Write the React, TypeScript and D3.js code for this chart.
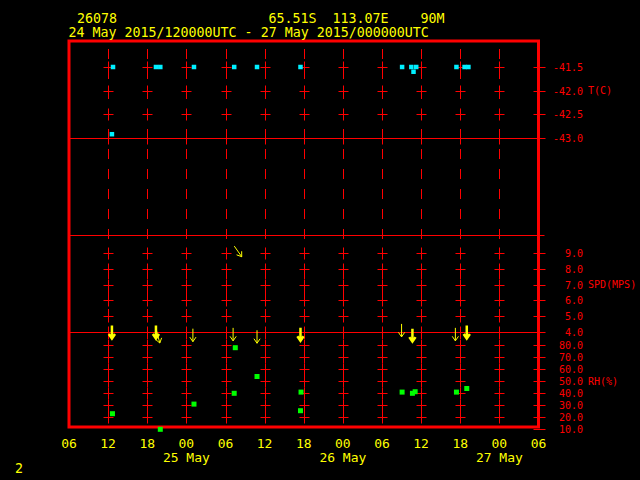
import { useEffect, useRef } from 'react';
import * as d3 from 'd3';

// header texts
const station = '26078';
const location = '65.51S  113.07E    90M';
const period = '24 May 2015/120000UTC - 27 May 2015/000000UTC';
const pageNumber = '2';

const timeStart = '2015-05-24T06:00:00Z';
const timeEnd = '2015-05-27T06:00:00Z';

const tempTicks = [-41.5, -42.0, -42.5, -43.0];
const spdTicks = [9, 8, 7, 6, 5, 4];
const rhTicks = [80, 70, 60, 50, 40, 30, 20, 10];

// temperature (C)
const tempTimes = [
  '2015-05-24T12:45Z', '2015-05-24T12:35Z', '2015-05-24T19:20Z', '2015-05-24T20:00Z',
  '2015-05-25T01:10Z', '2015-05-25T07:20Z', '2015-05-25T10:50Z', '2015-05-25T17:30Z',
  '2015-05-26T09:05Z', '2015-05-26T10:30Z', '2015-05-26T11:15Z', '2015-05-26T10:50Z',
  '2015-05-26T17:25Z', '2015-05-26T18:40Z', '2015-05-26T19:15Z',
];
const tempValues = [
  -41.5, -42.92, -41.5, -41.5,
  -41.5, -41.5, -41.5, -41.5,
  -41.5, -41.5, -41.5, -41.6,
  -41.5, -41.5, -41.5,
];

// wind, heavy arrows
const windBoldTimes = [
  '2015-05-24T12:35Z', '2015-05-24T19:20Z', '2015-05-25T17:30Z',
  '2015-05-26T10:40Z', '2015-05-26T19:00Z',
];
const windBoldSpeed = [4.0, 4.0, 3.85, 3.8, 4.0];
const windBoldDir = [360, 360, 360, 360, 360];

// wind, light arrows
const windTimes = [
  '2015-05-24T19:40Z', '2015-05-25T01:00Z', '2015-05-25T07:10Z', '2015-05-25T07:55Z',
  '2015-05-25T10:50Z', '2015-05-26T09:00Z', '2015-05-26T17:15Z',
];
const windSpeed = [3.7, 3.8, 3.85, 9.1, 3.7, 4.1, 3.85];
const windDir = [345, 360, 360, 325, 360, 360, 360];

// relative humidity (%)
const rhTimes = [
  '2015-05-24T12:40Z', '2015-05-24T20:00Z', '2015-05-25T01:10Z', '2015-05-25T07:30Z',
  '2015-05-25T07:20Z', '2015-05-25T10:50Z', '2015-05-25T17:35Z', '2015-05-25T17:30Z',
  '2015-05-26T09:05Z', '2015-05-26T10:40Z', '2015-05-26T11:05Z', '2015-05-26T17:25Z',
  '2015-05-26T19:00Z',
];
const rhValues = [23, 10, 31, 78, 40, 54, 41, 25.5, 41, 40, 41.3, 41, 44];

export default function App() {
  const svgRef = useRef<SVGSVGElement>(null);

  useEffect(() => {
    document.body.style.margin = '0';
    document.body.style.background = '#000';
    if (!svgRef.current) return;

    const svg = d3.select(svgRef.current);
    svg.selectAll('*').remove();

    const width = 640;
    const height = 480;
    const left = 69;
    const right = 538.5;
    const top = 41;
    const bottom = 427;
    const midLine = 235;
    const red = '#ff0000';
    const yellow = '#ffff00';
    const font = 'DejaVu Sans Mono, monospace';

    svg.append('rect').attr('width', width).attr('height', height).attr('fill', '#000');

    // Scales
    const x = d3.scaleUtc()
      .domain([new Date(timeStart), new Date(timeEnd)])
      .range([left, right]);
    const yT = d3.scaleLinear().domain([-43, -41.5]).range([138, 67]);
    const ySpd = d3.scaleLinear().domain([4, 9]).range([332, 253]);
    const yRh = d3.scaleLinear().domain([10, 80]).range([429.3, 345.3]);

    const gridTimes = d3.utcHour.every(6)!.range(new Date(timeStart), new Date(timeEnd))
      .filter(t => t > new Date(timeStart));

    // vertical dashed grid
    const grid = svg.append('g').attr('stroke', red).attr('stroke-width', 1);
    gridTimes.forEach(t => {
      const gx = Math.round(x(t)) + 0.5;
      grid.append('line')
        .attr('x1', gx).attr('x2', gx)
        .attr('y1', 49).attr('y2', bottom - 1)
        .attr('stroke-dasharray', '10,10');
    });

    // crosses at tick values
    const tickRows = [
      ...tempTicks.map(v => yT(v)),
      ...spdTicks.map(v => ySpd(v)),
      ...rhTicks.filter(v => yRh(v) < bottom - 2).map(v => yRh(v)),
    ];
    gridTimes.forEach(t => {
      const gx = Math.round(x(t)) + 0.5;
      tickRows.forEach(ty => {
        const yy = Math.round(ty) + 0.5;
        grid.append('line').attr('x1', gx - 5).attr('x2', gx + 5).attr('y1', yy).attr('y2', yy);
        grid.append('line').attr('x1', gx).attr('x2', gx).attr('y1', yy - 6).attr('y2', yy + 6);
      });
    });

    // panel separators
    [yT(-43), midLine, ySpd(4)].forEach(py => {
      const yy = Math.round(py) + 0.5;
      svg.append('line')
        .attr('x1', left).attr('x2', right + 6)
        .attr('y1', yy).attr('y2', yy)
        .attr('stroke', red).attr('stroke-width', 1);
    });

    // frame
    svg.append('rect')
      .attr('x', left).attr('y', top)
      .attr('width', right - left).attr('height', bottom - top)
      .attr('fill', 'none').attr('stroke', red).attr('stroke-width', 3);

    // right-side ticks and labels
    const rightAxis = (vals: number[], scale: d3.ScaleLinear<number, number>, title: string, titleAt: number) => {
      vals.forEach(v => {
        const yy = Math.round(scale(v)) + 0.5;
        svg.append('line')
          .attr('x1', right - 5).attr('x2', right + 7)
          .attr('y1', yy).attr('y2', yy)
          .attr('stroke', red);
        svg.append('text')
          .attr('x', 583).attr('y', yy + 3.5)
          .attr('text-anchor', 'end')
          .attr('fill', red)
          .style('font', `10px ${font}`)
          .text(v.toFixed(1));
      });
      svg.append('text')
        .attr('x', 588).attr('y', scale(titleAt) + 3.5)
        .attr('fill', red)
        .style('font', `10px ${font}`)
        .text(title);
    };
    rightAxis(tempTicks, yT, 'T(C)', -42.0);
    rightAxis(spdTicks, ySpd, 'SPD(MPS)', 7);
    rightAxis(rhTicks, yRh, 'RH(%)', 50);

    // temperature points
    svg.append('g').selectAll('rect')
      .data(tempTimes.map((t, i) => ({ t: new Date(t), v: tempValues[i] })))
      .enter().append('rect')
      .attr('x', d => x(d.t) - 2.25)
      .attr('y', d => yT(d.v) - 2.25)
      .attr('width', 4.5).attr('height', 4.5)
      .attr('fill', '#00f0ff');

    // RH points
    svg.append('g').selectAll('rect')
      .data(rhTimes.map((t, i) => ({ t: new Date(t), v: rhValues[i] })))
      .enter().append('rect')
      .attr('x', d => x(d.t) - 2.5)
      .attr('y', d => yRh(d.v) - 2.5)
      .attr('width', 5).attr('height', 5)
      .attr('fill', '#00ff00');

    // wind arrows
    const drawArrow = (t: string, spd: number, dir: number, weight: number) => {
      const cx = x(new Date(t));
      const cy = ySpd(spd);
      const toward = ((dir + 180) * Math.PI) / 180;
      const dx = Math.sin(toward);
      const dy = -Math.cos(toward);
      const len = 13;
      const hx = cx + (dx * len) / 2;
      const hy = cy + (dy * len) / 2;
      const tx = cx - (dx * len) / 2;
      const ty = cy - (dy * len) / 2;
      const head = 5.5;
      const a = Math.atan2(dy, dx);
      const p1 = [hx - head * Math.cos(a - 0.6), hy - head * Math.sin(a - 0.6)];
      const p2 = [hx - head * Math.cos(a + 0.6), hy - head * Math.sin(a + 0.6)];
      svg.append('path')
        .attr('d', `M${tx},${ty}L${hx},${hy}M${p1[0]},${p1[1]}L${hx},${hy}L${p2[0]},${p2[1]}`)
        .attr('fill', 'none')
        .attr('stroke', yellow)
        .attr('stroke-width', weight);
    };
    windTimes.forEach((t, i) => drawArrow(t, windSpeed[i], windDir[i], 1));
    windBoldTimes.forEach((t, i) => drawArrow(t, windBoldSpeed[i], windBoldDir[i], 2.5));

    // time axis labels
    const axisTimes = d3.utcHour.every(6)!.range(new Date(timeStart), d3.utcHour.offset(new Date(timeEnd), 1));
    axisTimes.forEach(t => {
      svg.append('text')
        .attr('x', x(t)).attr('y', 448)
        .attr('text-anchor', 'middle')
        .attr('fill', yellow)
        .style('font', `13px ${font}`)
        .text(d3.utcFormat('%H')(t));
      if (t.getUTCHours() === 0) {
        svg.append('text')
          .attr('x', x(t)).attr('y', 462)
          .attr('text-anchor', 'middle')
          .attr('fill', yellow)
          .style('font', `13px ${font}`)
          .text(d3.utcFormat('%d %b')(t));
      }
    });

    // header
    const header = [
      { text: station, x: 77, y: 23 },
      { text: location, x: 268.5, y: 23 },
      { text: period, x: 68.5, y: 37 },
      { text: pageNumber, x: 15, y: 473 },
    ];
    header.forEach(h => {
      svg.append('text')
        .attr('x', h.x).attr('y', h.y)
        .attr('fill', yellow)
        .attr('xml:space', 'preserve')
        .style('white-space', 'pre')
        .style('font', `13.3px ${font}`)
        .text(h.text);
    });
  }, []);

  return (
    <svg
      ref={svgRef}
      width={640}
      height={480}
      style={{ position: 'absolute', left: 0, top: 0, background: '#000' }}
    />
  );
}
